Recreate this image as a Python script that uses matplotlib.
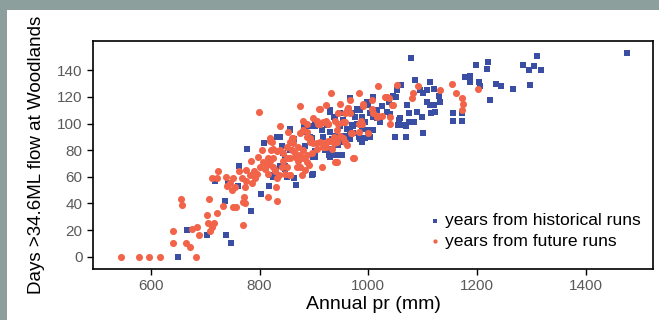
import matplotlib
matplotlib.use("Agg")
import matplotlib.pyplot as plt
from matplotlib.patches import Rectangle

plt.rcParams['font.family'] = ['Liberation Sans', 'DejaVu Sans']

##### data #####
# years from historical runs (annual pr [mm], days > 34.6ML)
hist_x = [651, 667, 703, 719, 742, 737, 739, 748, 761, 762, 784, 777, 802, 809, 818, 826,
          838, 856, 847, 867, 864, 864, 898, 882, 893, 902,
          930, 939, 948, 954, 963, 972, 979, 988, 997, 1009, 1015, 1021, 1003, 985, 966,
          948, 927, 933, 951, 917, 893,
          1078, 1310, 1475, 1198, 1220, 1218, 1284, 1305, 1296, 1318, 1177, 1186, 1186,
          1204, 1205, 1235, 1243, 1265, 1297, 1224, 1086, 1113, 1121, 1101, 1108, 1094,
          1060, 1053, 1046, 1051, 1034, 1037, 1025, 1034, 1040, 1022, 1057, 1055, 1064,
          1069, 1075, 1083, 1049, 1069, 1100, 1098, 1090, 1074, 1071, 1107, 1113, 1115,
          1123, 1121, 1132, 1129, 1156, 1156, 1172, 1172, 1058,
          966, 962, 970, 979, 985, 976, 988, 970, 979, 985, 994, 988, 963, 972, 982, 988,
          994, 1000, 1003, 1009, 1015, 997, 1000, 1009,
          930, 948, 936, 902, 887, 881, 902, 914, 924, 930, 939, 954, 960, 966, 896, 917,
          933, 945, 951, 927, 920, 936, 930, 948, 899, 902, 884, 856, 832, 841, 844, 847,
          856, 838, 847, 819, 825, 850, 896]
hist_y = [0, 20, 16, 57, 55, 42, 16, 10, 53, 68, 34, 81, 47, 85, 53, 61,
          90, 96, 68, 54, 59, 88, 62, 99, 90, 75,
          109, 104, 98, 103, 108, 98, 110, 105, 115, 120, 110, 101, 90, 88, 88,
          90, 76, 76, 76, 90, 98,
          149, 151, 153, 144, 146, 141, 144, 143, 140, 140, 135, 136, 131,
          131, 128, 130, 128, 126, 129, 118, 133, 131, 126, 123, 125, 125,
          129, 125, 121, 120, 119, 116, 113, 109, 107, 101, 103, 99, 99,
          98, 101, 101, 90, 90, 93, 105, 109, 108, 114, 116, 114, 108,
          109, 114, 116, 121, 108, 102, 108, 102, 104,
          119, 110, 108, 111, 110, 105, 104, 99, 100, 100, 101, 96, 91, 93, 90, 86,
          89, 114, 108, 105, 104, 116, 95, 95,
          110, 108, 105, 100, 98, 94, 98, 95, 99, 94, 91, 91, 96, 94, 89, 90,
          88, 84, 86, 81, 80, 76, 75, 76, 75, 79, 83, 95, 90, 83, 78, 74,
          80, 68, 66, 61, 60, 60, 61]

# years from future runs
fut_x = [545, 578, 597, 618, 683, 641, 641, 664, 672, 655, 657, 676, 686, 689,
         703, 706, 712, 716, 709, 708, 721, 732, 712, 721, 724,
         738, 740, 746, 752, 749, 755, 751, 756,
         762, 767, 773, 776, 771, 770, 773, 770,
         776, 782, 789, 786, 792, 795, 784, 799,
         798, 804, 807, 801, 810, 816, 819, 822, 821, 824, 828, 832, 825, 816, 813,
         816, 830, 832, 838,
         838, 844, 850, 856, 862, 859, 850, 841, 846, 856, 865, 868, 871, 874,
         880, 887, 893, 880, 887, 890, 896, 880, 874,
         899, 905, 911, 917, 922, 926, 914, 917, 923, 905, 930, 936, 942, 948, 954,
         942, 933, 939, 972,
         909, 922, 931, 948, 945, 960, 966, 982, 990, 1006, 1018, 1032, 970, 982,
         1052, 1031, 1043, 1037, 1039, 1025, 1082, 1081, 1091, 1132, 1153, 1161, 1172,
         1174, 1172, 1202,
         991, 987, 988, 1006, 1009, 1015, 1018, 1040, 1034, 1046, 982, 999, 968, 957,
         960, 963, 957, 974,
         911, 963, 887, 880, 908, 926, 939, 945, 954, 957, 966, 853, 859, 862, 874,
         887, 893, 899, 911, 905, 917, 926, 936, 960, 819, 825, 832, 819, 828, 844,
         850, 856, 865, 871, 874, 878, 884, 887, 942, 856, 835]
fut_y = [0, 0, 0, 0, 0, 19, 10, 10, 7, 43, 39, 21, 22, 16,
         31, 25, 22, 25, 19, 43, 33, 38, 59, 59, 64,
         60, 53, 55, 59, 50, 52, 37, 37,
         64, 59, 52, 57, 45, 41, 40, 24,
         65, 61, 64, 55, 59, 62, 72, 109,
         75, 80, 71, 67, 66, 74, 89, 86, 80, 67, 64, 59, 74, 62, 69,
         45, 52, 42, 98,
         80, 78, 82, 86, 89, 80, 74, 67, 62, 61, 75, 67, 82, 113,
         95, 90, 86, 80, 76, 69, 78, 74, 76,
         104, 102, 100, 101, 102, 100, 67, 85, 82, 85, 87, 90, 95, 91, 89,
         86, 81, 71, 74,
         111, 114, 123, 115, 108, 110, 118, 123, 113, 118, 128, 120, 93, 100,
         129, 120, 114, 119, 100, 106, 123, 119, 128, 125, 130, 123, 119,
         115, 110, 126,
         115, 102, 100, 111, 108, 105, 106, 105, 120, 114, 94, 93, 93, 101,
         109, 112, 86, 74,
         111, 112, 100, 102, 100, 100, 102, 100, 101, 108, 108, 94, 89, 85, 93,
         94, 89, 85, 86, 81, 82, 87, 85, 84, 87, 81, 79, 72, 65, 72,
         67, 74, 78, 72, 67, 61, 65, 71, 71, 61, 61]

xticks = [600, 800, 1000, 1200, 1400]
yticks = [0, 20, 40, 60, 80, 100, 120, 140]

blue = "#3a4fa3"
red = "#f2644a"

fig = plt.figure(figsize=(6.59, 3.20), dpi=100)
fig.patch.set_facecolor("#8c9f9c")
# white panel inside the grey-green frame
fig.patches.append(Rectangle((7 / 659, 0), 1, 1 - 10 / 320, transform=fig.transFigure,
                             facecolor="white", edgecolor="none", zorder=-10))

ax = fig.add_axes([93 / 659, 51 / 320, 560 / 659, 228 / 320])
ax.set_zorder(5)
ax.scatter(hist_x, hist_y, s=15, marker="s", color=blue, linewidths=0,
           label="years from historical runs", zorder=2)
ax.scatter(fut_x, fut_y, s=26, marker="o", color=red, linewidths=0,
           label="years from future runs", zorder=3)

ax.set_xlim(494, 1523)
ax.set_ylim(-9.3, 162)
ax.set_xticks(xticks)
ax.set_yticks(yticks)
ax.tick_params(direction="out", length=4, width=1, labelsize=11, labelcolor="#5a5a5a")
for sp in ax.spines.values():
    sp.set_linewidth(1.2)

ax.set_xlabel("Annual pr (mm)", fontsize=14, labelpad=2)
ax.set_ylabel("Days >34.6ML flow at Woodlands", fontsize=13.5, labelpad=9)

ax.legend(loc="lower right", bbox_to_anchor=(1.0, 0.035),
          frameon=False, fontsize=12.6, markerscale=0.6, handletextpad=0.1,
          handlelength=1.0, labelspacing=0.3, borderpad=0.2)

plt.savefig("out.png", dpi=100, facecolor=fig.get_facecolor())
